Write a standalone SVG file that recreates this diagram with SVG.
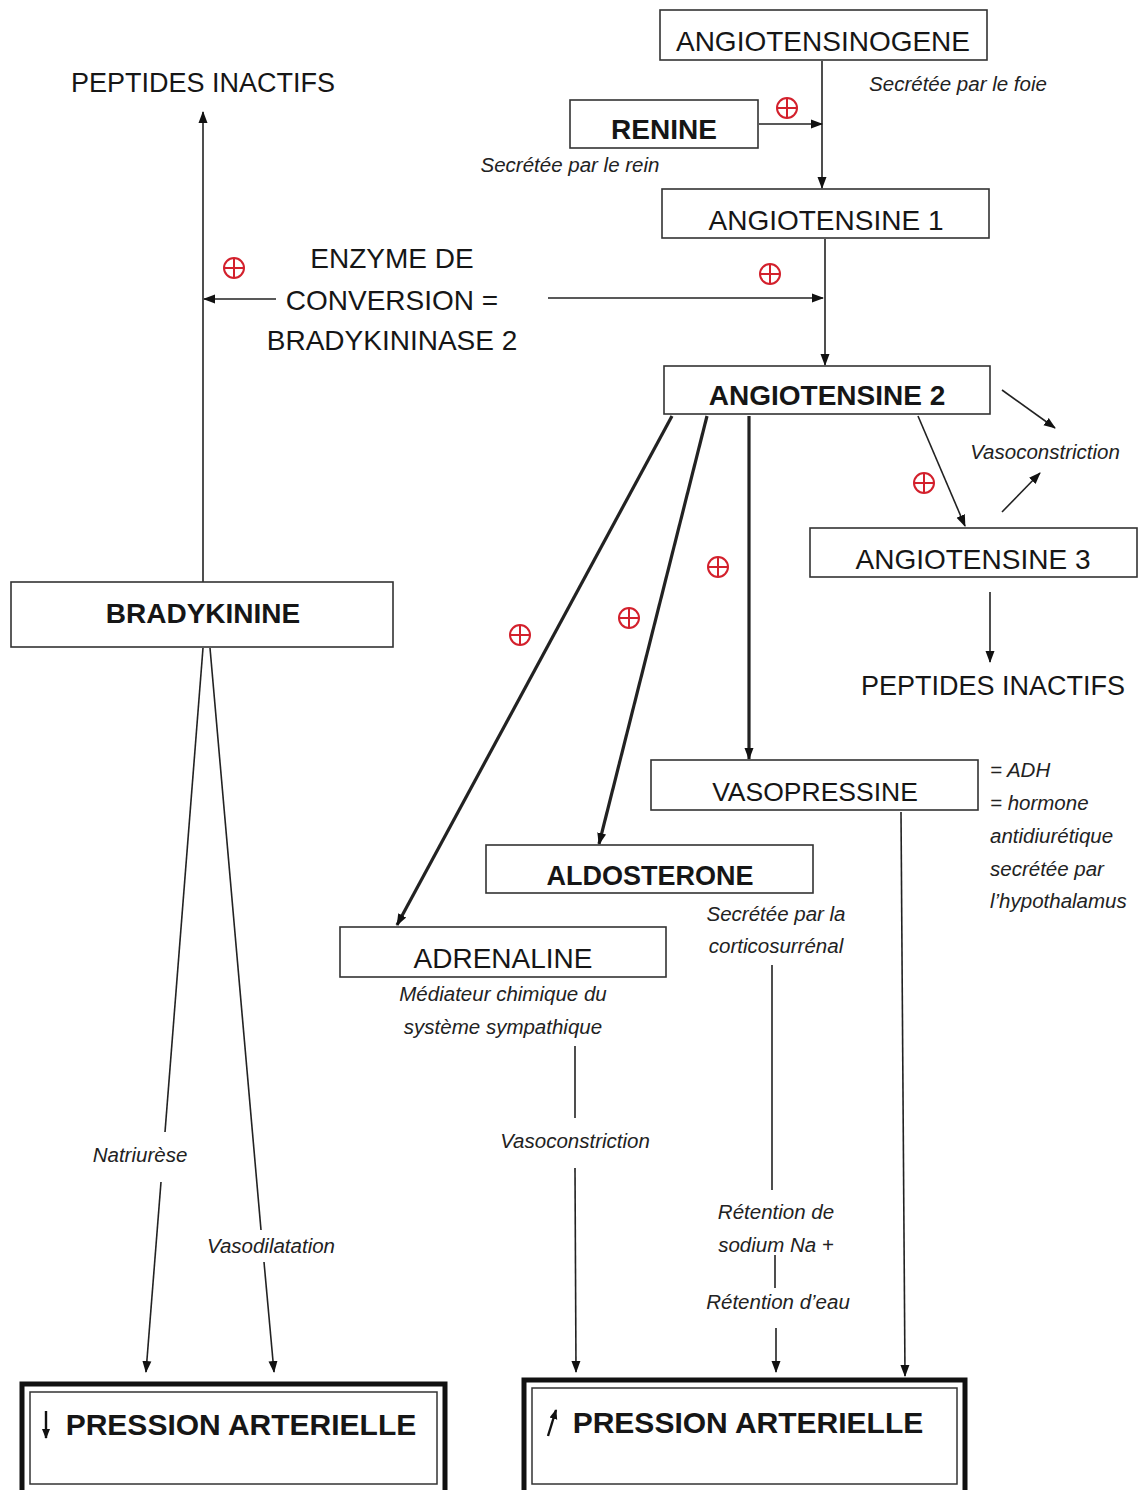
<svg xmlns="http://www.w3.org/2000/svg" width="1145" height="1490" viewBox="0 0 1145 1490">
<style>
.box{fill:#fff;stroke:#333;stroke-width:1.6}
.t{font-family:"Liberation Sans",Arial,sans-serif;font-size:28px;fill:#161616;text-anchor:middle}
.b{font-weight:bold}
.i{font-family:"Liberation Sans",Arial,sans-serif;font-size:20.5px;font-style:italic;fill:#222;text-anchor:middle}
.l{text-anchor:start}
.c{fill:none;stroke:#222;stroke-width:1.6}
.k{stroke-width:3.2}
.plus circle,.plus line{fill:none;stroke:#d3202c;stroke-width:2}
.big{fill:#fff;stroke:#111;stroke-width:5}
.bigin{fill:none;stroke:#333;stroke-width:1.5}
</style>
<defs>
<marker id="ah" markerUnits="userSpaceOnUse" markerWidth="12" markerHeight="12" viewBox="0 0 12 12" refX="11" refY="6" orient="auto">
<path d="M0,1.5 L12,6 L0,10.5 Z" fill="#111"/>
</marker>
<marker id="ahs" markerUnits="userSpaceOnUse" markerWidth="10" markerHeight="10" viewBox="0 0 10 10" refX="9" refY="5" orient="auto">
<path d="M0,1 L10,5 L0,9 Z" fill="#111"/>
</marker>
<g id="pl" class="plus"><circle r="10"/><line x1="-10" y1="0" x2="10" y2="0"/><line x1="0" y1="-10" x2="0" y2="10"/></g>
</defs>
<rect width="1145" height="1490" fill="#fff"/>

<g id="connectors">
<line class="c" x1="822" y1="61" x2="822" y2="188" marker-end="url(#ah)"/>
<line class="c" x1="759" y1="124" x2="822" y2="124" marker-end="url(#ah)"/>
<line class="c" x1="825" y1="239" x2="825" y2="365" marker-end="url(#ah)"/>
<line class="c" x1="548" y1="298" x2="823" y2="298" marker-end="url(#ah)"/>
<line class="c" x1="276" y1="299" x2="204" y2="299" marker-end="url(#ah)"/>
<line class="c" x1="203" y1="582" x2="203" y2="112" marker-end="url(#ah)"/>
<line class="c" x1="1002" y1="390" x2="1055" y2="428" marker-end="url(#ah)"/>
<line class="c" x1="1002" y1="512" x2="1040" y2="473" marker-end="url(#ah)"/>
<line class="c" x1="918" y1="416" x2="965" y2="526" marker-end="url(#ah)"/>
<line class="c" x1="990" y1="592" x2="990" y2="662" marker-end="url(#ah)"/>
<line class="c k" x1="672" y1="416" x2="397" y2="925" marker-end="url(#ah)"/>
<line class="c k" x1="707" y1="416" x2="599" y2="844" marker-end="url(#ah)"/>
<line class="c k" x1="749" y1="416" x2="749" y2="759" marker-end="url(#ah)"/>
<line class="c" x1="901" y1="812" x2="905" y2="1376" marker-end="url(#ah)"/>
<line class="c" x1="575" y1="1046" x2="575" y2="1118"/>
<line class="c" x1="575" y1="1168" x2="576" y2="1372" marker-end="url(#ah)"/>
<line class="c" x1="772" y1="965" x2="772" y2="1190"/>
<line class="c" x1="775" y1="1255" x2="775" y2="1288"/>
<line class="c" x1="776" y1="1328" x2="776" y2="1372" marker-end="url(#ah)"/>
<line class="c" x1="203" y1="648" x2="165" y2="1132"/>
<line class="c" x1="161" y1="1182" x2="146" y2="1372" marker-end="url(#ah)"/>
<line class="c" x1="210" y1="648" x2="261" y2="1230"/>
<line class="c" x1="264" y1="1262" x2="274" y2="1372" marker-end="url(#ah)"/>
</g>

<g id="plus-signs">
<use href="#pl" x="787" y="108"/>
<use href="#pl" x="770" y="274"/>
<use href="#pl" x="234" y="268"/>
<use href="#pl" x="924" y="483"/>
<use href="#pl" x="520" y="635"/>
<use href="#pl" x="629" y="618"/>
<use href="#pl" x="718" y="567"/>
</g>

<g id="angiotensinogene">
<rect class="box" x="660" y="10" width="327" height="50"/>
<text class="t" x="823" y="51">ANGIOTENSINOGENE</text>
<text class="i" x="958" y="91">Secrétée par le foie</text>
</g>
<g id="renine">
<rect class="box" x="570" y="100" width="188" height="48"/>
<text class="t b" x="664" y="139">RENINE</text>
<text class="i" x="570" y="172">Secrétée par le rein</text>
</g>
<g id="angiotensine1">
<rect class="box" x="662" y="189" width="327" height="49"/>
<text class="t" x="826" y="230">ANGIOTENSINE 1</text>
</g>
<g id="enzyme">
<text class="t" x="392" y="268">ENZYME DE</text>
<text class="t" x="392" y="310">CONVERSION =</text>
<text class="t" x="392" y="350">BRADYKININASE 2</text>
</g>
<g id="peptides-left">
<text class="t" x="203" y="92" style="font-size:27px">PEPTIDES INACTIFS</text>
</g>
<g id="angiotensine2">
<rect class="box" x="664" y="366" width="326" height="48"/>
<text class="t b" x="827" y="405">ANGIOTENSINE 2</text>
</g>
<g id="vasoconstriction-top">
<text class="i" x="1045" y="459">Vasoconstriction</text>
</g>
<g id="angiotensine3">
<rect class="box" x="810" y="528" width="327" height="49"/>
<text class="t" x="973" y="569">ANGIOTENSINE 3</text>
</g>
<g id="peptides-right">
<text class="t" x="993" y="695" style="font-size:27px">PEPTIDES INACTIFS</text>
</g>
<g id="bradykinine">
<rect class="box" x="11" y="582" width="382" height="65"/>
<text class="t b" x="203" y="623">BRADYKININE</text>
</g>
<g id="vasopressine">
<rect class="box" x="651" y="760" width="327" height="50"/>
<text class="t" x="815" y="801" style="font-size:26.5px">VASOPRESSINE</text>
<text class="i l" x="990" y="777">= ADH</text>
<text class="i l" x="990" y="810">= hormone</text>
<text class="i l" x="990" y="843">antidiurétique</text>
<text class="i l" x="990" y="876">secrétée par</text>
<text class="i l" x="990" y="908">l’hypothalamus</text>
</g>
<g id="aldosterone">
<rect class="box" x="486" y="845" width="327" height="48"/>
<text class="t b" x="650" y="885" style="font-size:27px">ALDOSTERONE</text>
<text class="i" x="776" y="921">Secrétée par la</text>
<text class="i" x="776" y="953">corticosurrénal</text>
</g>
<g id="adrenaline">
<rect class="box" x="340" y="927" width="326" height="50"/>
<text class="t" x="503" y="968">ADRENALINE</text>
<text class="i" x="503" y="1001">Médiateur chimique du</text>
<text class="i" x="503" y="1034">système sympathique</text>
</g>
<g id="effect-labels">
<text class="i" x="575" y="1148">Vasoconstriction</text>
<text class="i" x="140" y="1162">Natriurèse</text>
<text class="i" x="271" y="1253">Vasodilatation</text>
<text class="i" x="776" y="1219">Rétention de</text>
<text class="i" x="776" y="1252">sodium Na +</text>
<text class="i" x="778" y="1309">Rétention d’eau</text>
</g>
<g id="pression-baisse">
<rect class="big" x="22" y="1384" width="423" height="110"/>
<rect class="bigin" x="30" y="1392" width="407" height="92"/>
<line x1="46" y1="1411" x2="46" y2="1438" stroke="#111" stroke-width="2.4" marker-end="url(#ahs)"/>
<text class="t b" x="241" y="1435" style="font-size:30px">PRESSION ARTERIELLE</text>
</g>
<g id="pression-hausse">
<rect class="big" x="524" y="1380" width="441" height="114"/>
<rect class="bigin" x="532" y="1388" width="425" height="96"/>
<line x1="548" y1="1436" x2="556" y2="1410" stroke="#111" stroke-width="2.4" marker-end="url(#ahs)"/>
<text class="t b" x="748" y="1433" style="font-size:30px">PRESSION ARTERIELLE</text>
</g>
</svg>
